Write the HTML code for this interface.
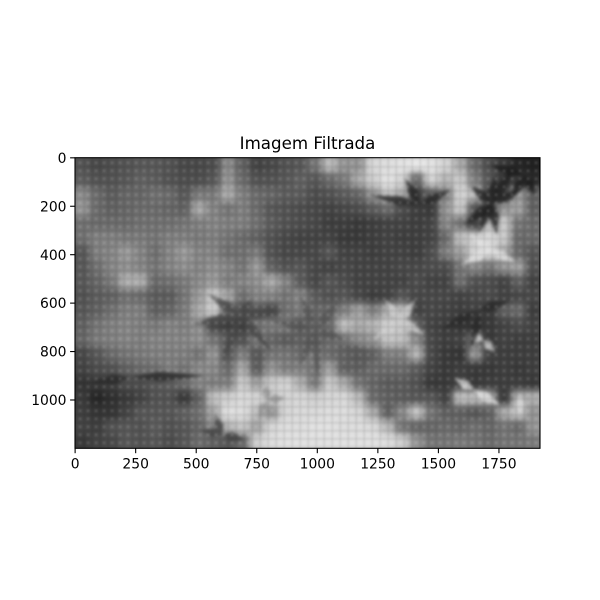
<!DOCTYPE html>
<html lang="pt">
<head>
<meta charset="utf-8">
<title>Imagem Filtrada</title>
<style>
html,body{margin:0;padding:0;background:#fff;}
svg{display:block;}
text{font-family:"DejaVu Sans","Liberation Sans",sans-serif;fill:#000;}
</style>
</head>
<body>
<svg id="chart" xmlns="http://www.w3.org/2000/svg" width="600" height="600" viewBox="0 0 600 600">
  <defs>
    <clipPath id="axesClip"><rect x="75" y="157.7" width="465" height="290.6"/></clipPath>
    <filter id="cellBlur" x="-10%" y="-10%" width="120%" height="120%" color-interpolation-filters="sRGB"><feGaussianBlur stdDeviation="3.5"/></filter>
    <filter id="leafBlur" x="-20%" y="-20%" width="140%" height="140%" color-interpolation-filters="sRGB"><feGaussianBlur stdDeviation="1.6"/></filter>
    <filter id="textureBlur" x="-5%" y="-5%" width="110%" height="110%" color-interpolation-filters="sRGB"><feGaussianBlur stdDeviation="0.9"/></filter>
    <pattern id="gridTexture" x="75" y="157.7" width="8" height="8" patternUnits="userSpaceOnUse">
      <rect x="0" y="0" width="8" height="2.4" fill="#000" opacity="0.05"/>
      <rect x="0" y="0" width="2.4" height="8" fill="#000" opacity="0.05"/>
      <rect x="3.6" y="3.6" width="3" height="3" fill="#fff" opacity="0.1"/>
    </pattern>
  </defs>
  <text x="307.5" y="149" font-size="16.67" text-anchor="middle">Imagem Filtrada</text>
  <g clip-path="url(#axesClip)">
    <g id="cells" filter="url(#cellBlur)"></g>
    <g id="leaves" filter="url(#leafBlur)"></g>
    <rect x="75" y="157.7" width="465" height="290.6" fill="url(#gridTexture)" filter="url(#textureBlur)"/>
  </g>
  <g id="ticks"></g>
  <rect x="75" y="157.7" width="465" height="290.6" fill="none" stroke="#000" stroke-width="1.1"/>
</svg>
<script>
var xTicks = [0, 250, 500, 750, 1000, 1250, 1500, 1750];
var yTicks = [0, 200, 400, 600, 800, 1000];
var imageWidth = 1920;
var imageHeight = 1200;
var brightness = [
[85,75,80,85,90,90,85,75,75,80,140,100,70,75,85,90,120,185,150,150,215,220,225,230,225,210,170,110,80,60,40,35],
[95,85,85,90,100,95,85,80,80,90,150,110,85,85,90,100,90,110,125,170,205,225,210,110,210,180,200,130,90,60,60,45],
[140,110,95,105,105,115,110,90,125,125,170,130,110,105,95,95,80,85,95,105,150,195,170,70,100,130,210,185,70,80,150,100],
[150,110,100,105,110,110,105,100,170,135,120,130,110,90,85,80,75,70,75,80,95,110,80,65,60,150,200,90,70,150,160,100],
[115,110,110,110,115,115,115,120,130,135,130,130,115,95,85,80,75,65,65,60,65,70,70,65,70,140,120,70,180,200,120,110],
[115,130,130,125,125,120,130,130,125,130,120,110,100,85,75,70,70,70,60,60,65,70,65,65,70,110,190,205,215,200,110,110],
[90,130,135,155,135,115,135,155,135,135,115,115,125,85,75,75,75,90,70,70,65,70,70,65,80,130,160,210,220,170,110,90],
[90,115,135,145,135,120,135,145,135,145,135,120,155,100,85,90,75,70,75,70,70,70,75,75,80,80,120,140,120,150,160,85],
[90,105,125,175,175,110,115,125,140,155,130,135,145,170,135,95,75,90,80,70,70,70,70,80,70,70,115,85,80,70,100,70],
[85,95,100,115,110,95,95,120,155,200,165,115,135,135,120,135,95,85,90,75,65,70,90,75,75,75,70,75,80,70,75,75],
[90,100,115,130,130,100,105,125,170,205,105,85,90,75,115,125,105,110,130,160,130,170,180,70,75,70,65,70,60,100,110,65],
[100,120,130,135,130,125,135,130,145,75,65,65,115,125,125,95,105,110,190,170,180,205,200,100,70,65,55,55,60,70,80,70],
[105,125,130,135,130,135,135,135,145,120,95,85,125,105,95,100,95,110,120,140,150,195,190,140,75,65,70,120,60,70,65,65],
[75,90,110,120,125,130,130,130,120,150,90,130,90,120,120,110,130,110,100,90,100,130,130,180,75,60,55,150,70,65,65,65],
[70,80,85,100,110,115,130,120,140,140,110,170,95,150,130,130,120,160,100,100,110,110,110,95,70,60,65,60,60,65,60,65],
[55,60,65,80,80,90,95,110,135,130,130,200,160,200,210,175,125,200,170,120,105,95,95,85,60,60,70,60,65,65,65,60],
[60,40,50,60,70,85,85,60,100,190,205,215,210,205,210,212,205,212,215,185,110,100,95,90,90,70,190,185,170,60,175,175],
[65,55,55,70,90,90,90,100,115,165,222,220,190,150,212,216,216,220,220,212,170,100,140,195,120,100,100,90,100,170,195,150],
[70,65,85,90,85,95,85,90,105,140,180,195,165,212,220,220,224,224,220,220,216,185,120,105,105,110,105,115,105,120,110,150],
[60,70,75,90,85,90,80,90,110,100,90,110,205,220,224,224,224,224,224,224,224,220,205,150,120,120,125,120,110,120,120,125]
];
var leafCentersX = [681, 1722, 1424, 227, 1342, 1713, 1643, 1685, 1837, 1858, 1672, 991, 1218, 607, 793];
var leafCentersY = [650, 187, 195, 906, 670, 380, 959, 753, 980, 71, 629, 711, 814, 1145, 1000];
var leafShades = [75, 35, 40, 45, 205, 225, 225, 205, 215, 30, 45, 90, 95, 70, 150];
var leafTipsX = [
  [487, 549, 731, 846, 813, 607],
  [1610, 1664, 1742, 1631, 1734, 1837, 1816],
  [1362, 1548, 1218],
  [537, 60],
  [1280, 1226, 1404, 1445],
  [1590, 1631, 1817],
  [1569, 1755],
  [1734, 1631],
  [1837],
  [1713, 1899, 1796],
  [1507, 1796, 1631],
  [929, 805, 1094, 1115, 1003, 929],
  [1073, 1156],
  [578, 517, 702],
  [756, 867, 785]
];
var leafTipsY = [
  [690, 562, 587, 637, 801, 843],
  [278, 307, 320, 113, 71, 133, 30],
  [84, 133, 154],
  [900, 930],
  [587, 752, 587, 732],
  [443, 319, 431],
  [910, 1021],
  [802, 732],
  [1062],
  [30, 154, 174],
  [711, 587, 794],
  [566, 670, 587, 753, 910, 855],
  [773, 876],
  [1062, 1124, 1165],
  [1082, 991, 938]
];

var NS = 'http://www.w3.org/2000/svg';
var plotLeft = 75, plotTop = 157.7, plotWidth = 465, plotHeight = 290.6;
function xScale(v) { return plotLeft + (v + 0.5) / imageWidth * plotWidth; }
function yScale(v) { return plotTop + (v + 0.5) / imageHeight * plotHeight; }

var rows = brightness.length, cols = brightness[0].length;
var cellW = imageWidth / cols, cellH = imageHeight / rows;
var cellsG = document.getElementById('cells');
for (var r = -3; r < rows + 3; r++) {
  for (var c = -3; c < cols + 3; c++) {
    var rr = Math.max(0, Math.min(rows - 1, r));
    var cc = Math.max(0, Math.min(cols - 1, c));
    var g = brightness[rr][cc];
    var cell = document.createElementNS(NS, 'rect');
    
    
    cell.setAttribute('x', xScale(c * cellW));
    cell.setAttribute('y', yScale(r * cellH));
    cell.setAttribute('width', plotWidth / cols + 0.5);
    cell.setAttribute('height', plotHeight / rows + 0.5);
    cell.setAttribute('fill', 'rgb(' + g + ',' + g + ',' + g + ')');
    cellsG.appendChild(cell);
  }
}

var leavesG = document.getElementById('leaves');
for (var l = 0; l < leafCentersX.length; l++) {
  var cx = xScale(leafCentersX[l]), cy = yScale(leafCentersY[l]);
  for (var t = 0; t < leafTipsX[l].length; t++) {
    var tx = xScale(leafTipsX[l][t]), ty = yScale(leafTipsY[l][t]);
    var dx = tx - cx, dy = ty - cy, len = Math.sqrt(dx * dx + dy * dy);
    var nx = -dy / len * 5, ny = dx / len * 5;
    var mx = cx + dx * 0.4, my = cy + dy * 0.4;
    var spoke = document.createElementNS(NS, 'polygon');
    
    
    spoke.setAttribute('points', [cx, cy, mx + nx, my + ny, tx, ty, mx - nx, my - ny].join(' '));
    var s = leafShades[l];
    spoke.setAttribute('fill', 'rgb(' + s + ',' + s + ',' + s + ')');
    spoke.setAttribute('fill-opacity', '0.8');
    leavesG.appendChild(spoke);
  }
}

var ticksG = document.getElementById('ticks');
xTicks.forEach(function (v) {
  var x = xScale(v);
  var line = document.createElementNS(NS, 'line');
  
  
  line.setAttribute('x1', x); line.setAttribute('x2', x);
  line.setAttribute('y1', plotTop + plotHeight); line.setAttribute('y2', plotTop + plotHeight + 4.9);
  line.setAttribute('stroke', '#000'); line.setAttribute('stroke-width', '1.1');
  ticksG.appendChild(line);
  var label = document.createElementNS(NS, 'text');
  
  
  label.setAttribute('x', x); label.setAttribute('y', 468.5);
  label.setAttribute('font-size', '13.89');
  label.setAttribute('text-anchor', 'middle');
  label.textContent = v;
  ticksG.appendChild(label);
});
yTicks.forEach(function (v) {
  var y = yScale(v);
  var line = document.createElementNS(NS, 'line');
  
  
  line.setAttribute('x1', plotLeft - 4.9); line.setAttribute('x2', plotLeft);
  line.setAttribute('y1', y); line.setAttribute('y2', y);
  line.setAttribute('stroke', '#000'); line.setAttribute('stroke-width', '1.1');
  ticksG.appendChild(line);
  var label = document.createElementNS(NS, 'text');
  
  
  label.setAttribute('x', 66.5); label.setAttribute('y', y + 5.1);
  label.setAttribute('font-size', '13.89');
  label.setAttribute('text-anchor', 'end');
  label.textContent = v;
  ticksG.appendChild(label);
});
</script>
</body>
</html>
